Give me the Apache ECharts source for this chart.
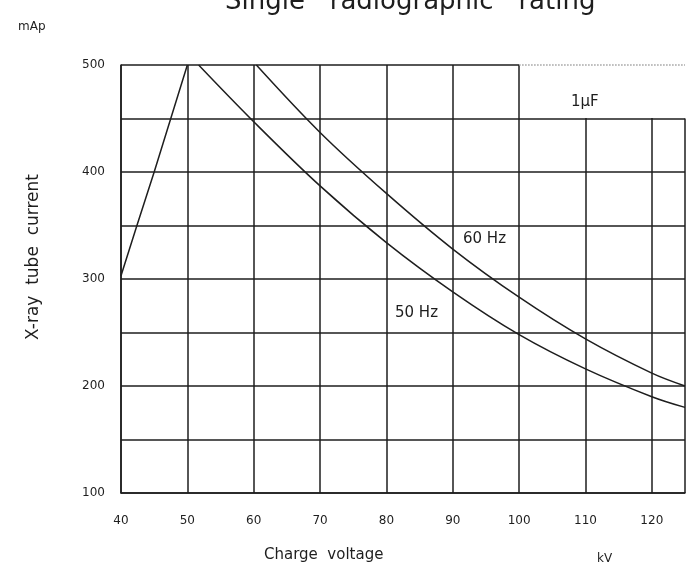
<!DOCTYPE html>
<html>
<head>
<meta charset="utf-8">
<script src="https://cdn.jsdelivr.net/npm/echarts@6/dist/echarts.min.js"></script>
<style>
  html, body { margin: 0; padding: 0; background: #fff; }
  #chart { width: 689px; height: 576px; }
</style>
</head>
<body>
<div id="chart"></div>
<script>
// values (kV, mAp)
const leftKv = [40, 42.4, 45, 47.5, 50];
const leftMa = [303, 350, 400, 450, 500];

const hz50Kv = [51.7, 60, 70, 80, 90, 100, 110, 120, 125];
const hz50Ma = [500, 447, 387, 334, 288, 248, 216, 190, 180];

const hz60Kv = [60.4, 70, 80, 90, 100, 110, 120, 125];
const hz60Ma = [500, 437, 380, 328, 283, 244, 212, 200];

const yLabels = [100, 200, 300, 400, 500];

const ink = '#1e1e1e';
const font = 'DejaVu Sans';

function pairs(xs, ys) {
  return xs.map((x, i) => [x, ys[i]]);
}

// split lines: the outer right / top edges are drawn separately (the 1µF box is open)
const xLineColors = [ink, ink, ink, ink, ink, ink, ink, ink, ink, 'transparent'];
const yLineColors = [ink, ink, ink, ink, ink, ink, ink, ink, 'transparent'];

const chart = echarts.init(document.getElementById('chart'));

const lineStyle = { color: ink, width: 1.5 };

chart.setOption({
  animation: false,
  textStyle: { fontFamily: font, color: ink },
  grid: { left: 121, right: 4, top: 65, bottom: 83 },
  xAxis: {
    type: 'value',
    min: 40, max: 125, interval: 10,
    axisLine: { show: true, lineStyle: { color: ink, width: 1.5 } },
    axisTick: { show: false },
    splitLine: { show: true, lineStyle: { color: xLineColors, width: 1.5 } },
    axisLabel: {
      color: ink, fontSize: 12, margin: 22,
      formatter: v => (v > 120 ? '' : String(v))
    }
  },
  yAxis: {
    type: 'value',
    min: 100, max: 500, interval: 50,
    axisLine: { show: true, lineStyle: { color: ink, width: 1.5 } },
    axisTick: { show: false },
    splitLine: { show: true, lineStyle: { color: yLineColors, width: 1.5 } },
    axisLabel: {
      color: ink, fontSize: 12, margin: 16,
      formatter: v => (yLabels.includes(v) ? String(v) : '')
    }
  },
  series: [
    {
      type: 'line', data: pairs(leftKv, leftMa), symbol: 'none', lineStyle: lineStyle,
      // blank box round the "1µF" note
      markArea: {
        silent: true,
        itemStyle: { color: '#fff' },
        data: [[{ coord: [100.35, 450.5] }, { coord: [125, 500] }]]
      }
    },
    { type: 'line', name: '50Hz', data: pairs(hz50Kv, hz50Ma), smooth: 0.35, symbol: 'none', lineStyle: lineStyle },
    {
      type: 'line', name: '60Hz', data: pairs(hz60Kv, hz60Ma), smooth: 0.35, symbol: 'none', lineStyle: lineStyle,
      clip: false,
      markLine: {
        silent: true, symbol: 'none', label: { show: false },
        lineStyle: { color: ink, type: 'solid', width: 1.5 },
        data: [
          [{ coord: [40, 500] }, { coord: [100, 500] }],
          [{ coord: [125, 100] }, { coord: [125, 450] }],
          [{ coord: [100, 500], lineStyle: { color: '#a0a0a0', type: 'dotted' } }, { coord: [125, 500] }]
        ]
      }
    }
  ],
  graphic: [
    { type: 'text', z: 100, left: 225, top: -11, style: { text: 'Single   radiographic   rating', font: '26px ' + font, fill: ink } },
    { type: 'text', z: 100, left: 18, top: 21, style: { text: 'mAp', font: '12px ' + font, fill: ink } },
    { type: 'text', z: 100, left: 571, top: 95, style: { text: '1µF', font: '15px ' + font, fill: ink } },
    { type: 'text', z: 100, left: 463, top: 232, style: { text: '60 Hz', font: '15px ' + font, fill: ink } },
    { type: 'text', z: 100, left: 395, top: 306, style: { text: '50 Hz', font: '15px ' + font, fill: ink } },
    { type: 'text', z: 100, left: 264, top: 548, style: { text: 'Charge  voltage', font: '15px ' + font, fill: ink } },
    { type: 'text', z: 100, left: 597, top: 553, style: { text: 'kV', font: '12px ' + font, fill: ink } },
    {
      type: 'text', z: 100, left: 25, top: 174, rotation: Math.PI / 2,
      style: { text: 'X-ray  tube  current', font: '17px ' + font, fill: ink }
    }
  ]
});
</script>
</body>
</html>
